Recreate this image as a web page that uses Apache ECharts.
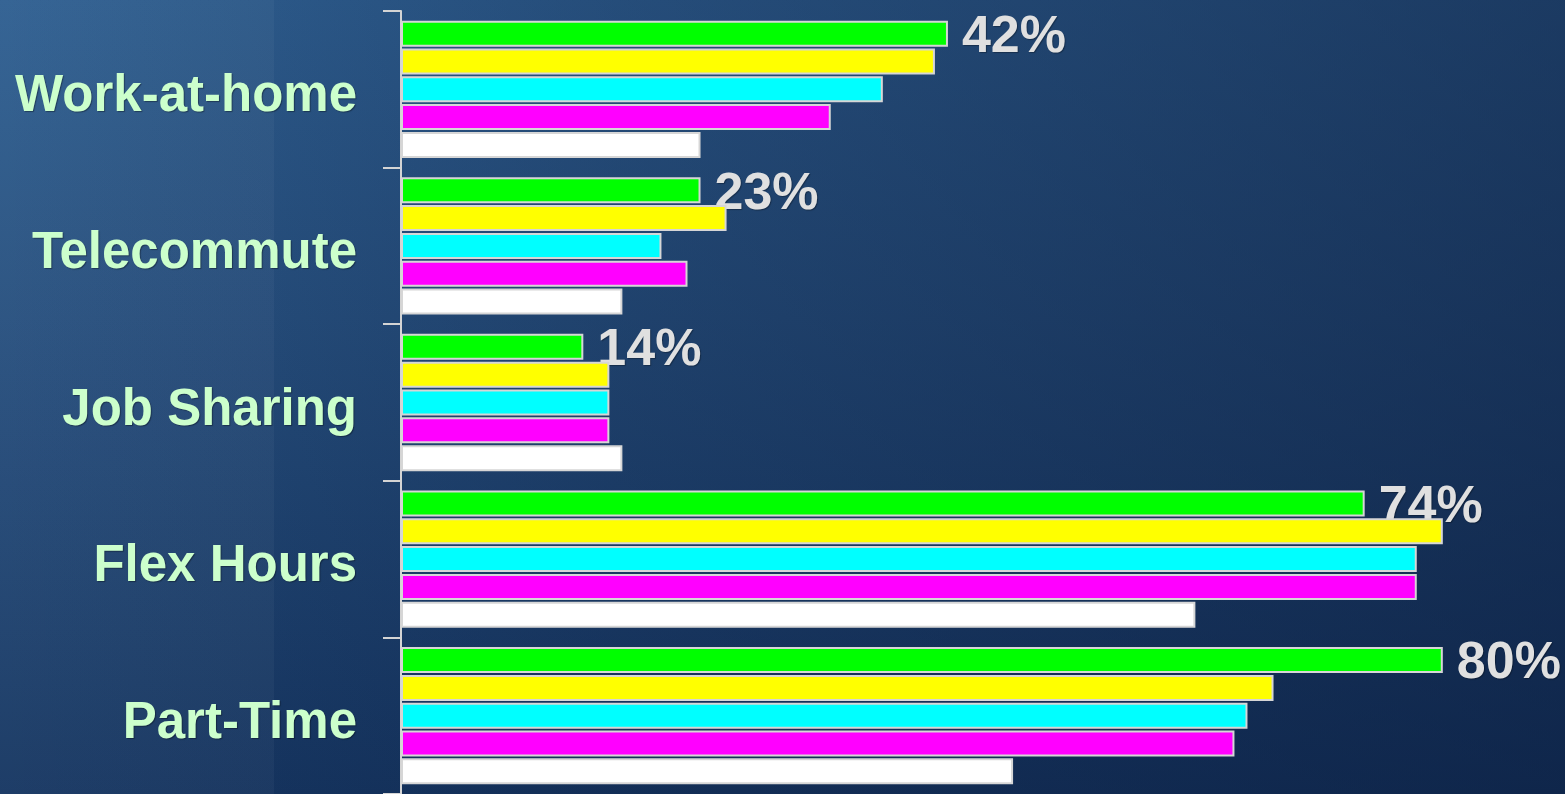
<!DOCTYPE html>
<html>
<head>
<meta charset="utf-8">
<script src="https://cdn.jsdelivr.net/npm/echarts@6/dist/echarts.min.js"></script>
<style>
html,body{margin:0;padding:0;width:1565px;height:794px;overflow:hidden;}
#chart{width:1565px;height:794px;
background:
 linear-gradient(to right, rgba(255,255,255,0.035) 0px, rgba(255,255,255,0.035) 274px, rgba(0,0,0,0) 274px),
 linear-gradient(to right, rgba(8,22,52,0) 0%, rgba(8,22,52,0.25) 40%, rgba(8,22,52,0.5) 100%),
 linear-gradient(to bottom, #2f5f91 0%, #27507f 40%, #163662 100%);
}
</style>
</head>
<body>
<div id="chart"></div>
<script>
const categories = ['Work-at-home', 'Telecommute', 'Job Sharing', 'Flex Hours', 'Part-Time'];
const greenValues   = [42, 23, 14, 74, 80];
const yellowValues  = [41, 25, 16, 80, 67];
const cyanValues    = [37, 20, 16, 78, 65];
const magentaValues = [33, 22, 16, 78, 64];
const whiteValues   = [23, 17, 17, 61, 47];

const seriesDefs = [
  {data: greenValues, color: '#00ff00', label: true},
  {data: yellowValues, color: '#ffff00'},
  {data: cyanValues, color: '#00ffff'},
  {data: magentaValues, color: '#ff00ff'},
  {data: whiteValues, color: '#ffffff'}
];

const font = 'Liberation Sans, Arial, sans-serif';
const chart = echarts.init(document.getElementById('chart'));
chart.setOption({
  backgroundColor: 'transparent',
  animation: false,
  grid: {left: 401, right: 18, top: 11, bottom: 0, containLabel: false},
  xAxis: {
    type: 'value', min: 0, max: 88,
    show: false,
    splitLine: {show: false}
  },
  yAxis: {
    type: 'category',
    data: categories,
    inverse: true,
    axisLine: {show: true, lineStyle: {color: '#d4d4d4', width: 2}},
    axisTick: {show: true, length: 18, lineStyle: {color: '#d4d4d4', width: 2}},
    axisLabel: {
      margin: 44,
      formatter: v => '{a|' + v + '}',
      rich: {
        a: {
          color: '#ccffcc',
          fontFamily: font,
          fontWeight: 'bold',
          fontSize: 51,
          padding: [16, 0, 0, 0],
          textShadowColor: 'rgba(0,0,0,0.35)',
          textShadowBlur: 1,
          textShadowOffsetX: 1,
          textShadowOffsetY: 1
        }
      }
    }
  },
  series: seriesDefs.map((s, i) => ({
    type: 'bar',
    data: s.data,
    z: 2 + i,
    barWidth: 26,
    barGap: '7%',
    itemStyle: {color: s.color, borderColor: '#d6d6d6', borderWidth: 2},
    label: {
      show: !!s.label,
      position: 'right',
      distance: 14,
      offset: [0, 4],
      formatter: '{c}%',
      color: '#e0e0e0',
      fontFamily: font,
      fontWeight: 'bold',
      fontSize: 52,
      textShadowColor: 'rgba(0,0,0,0.3)',
      textShadowBlur: 1,
      textShadowOffsetX: 1,
      textShadowOffsetY: 1
    }
  }))
});
</script>
</body>
</html>
